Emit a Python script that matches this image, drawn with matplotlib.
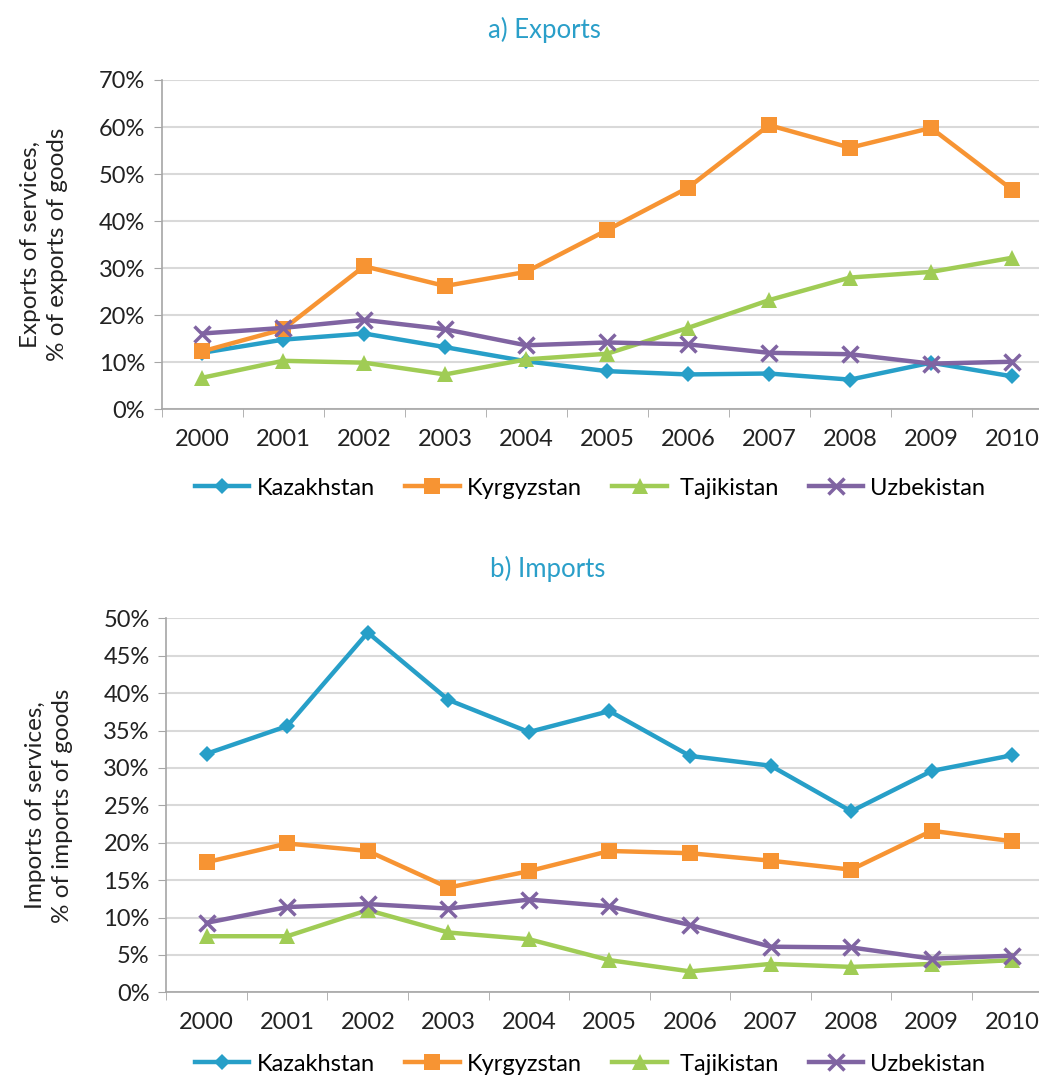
import matplotlib
matplotlib.use('Agg')
import matplotlib.pyplot as plt
from matplotlib.ticker import FixedLocator, PercentFormatter

plt.rcParams['font.family'] = ['Lato', 'DejaVu Sans']

years = ['2000', '2001', '2002', '2003', '2004', '2005', '2006', '2007', '2008', '2009', '2010']
countries = ['Kazakhstan', 'Kyrgyzstan', ' Tajikistan', 'Uzbekistan']

# a) exports of services, % of exports of goods
exp_kaz = [12.0, 14.8, 16.1, 13.2, 10.2, 8.1, 7.4, 7.6, 6.3, 9.9, 7.0]
exp_kgz = [12.3, 17.0, 30.4, 26.2, 29.2, 38.1, 47.1, 60.4, 55.6, 59.8, 46.7]
exp_tjk = [6.7, 10.3, 9.9, 7.4, 10.6, 11.8, 17.3, 23.2, 28.0, 29.2, 32.2]
exp_uzb = [16.1, 17.3, 19.0, 17.0, 13.6, 14.2, 13.8, 12.0, 11.7, 9.7, 10.1]

# b) imports of services, % of imports of goods
imp_kaz = [31.9, 35.6, 48.1, 39.1, 34.8, 37.6, 31.6, 30.3, 24.2, 29.6, 31.7]
imp_kgz = [17.4, 19.9, 18.9, 14.0, 16.2, 18.9, 18.6, 17.6, 16.4, 21.6, 20.2]
imp_tjk = [7.5, 7.5, 11.0, 8.0, 7.1, 4.3, 2.8, 3.8, 3.4, 3.8, 4.3]
imp_uzb = [9.3, 11.4, 11.8, 11.2, 12.4, 11.5, 9.0, 6.1, 6.0, 4.5, 4.9]

colors = ['#279fc8', '#f79433', '#a0cc55', '#8064a2']
markers = ['D', 's', '^', 'x']
msizes = [8, 11, 11, 11]

fig = plt.figure(figsize=(10.39, 10.75), dpi=100)
ax1 = fig.add_axes([0.1556, 0.6193, 0.8574, 0.3063])
ax2 = fig.add_axes([0.1601, 0.0769, 0.8530, 0.3479])


def draw(ax, series, ymax, ystep, title, ylabel):
    x = range(len(years))
    for vals, c, m, ms, lab in zip(series, colors, markers, msizes, countries):
        ax.plot(x, [v / 100 for v in vals], color=c, lw=3.2, marker=m, ms=ms,
                mew=2.5 if m == 'x' else 0, mec=c, label=lab, zorder=3)
    ax.set_xlim(-0.5, len(years) - 0.5)
    ax.set_ylim(0, ymax)
    ax.yaxis.set_major_locator(FixedLocator([i * ystep for i in range(int(round(ymax / ystep)) + 1)]))
    ax.yaxis.set_major_formatter(PercentFormatter(1.0, decimals=0))
    ax.set_xticks(list(x))
    ax.set_xticklabels(years)
    ax.set_xticks([i + 0.5 for i in range(-1, len(years))], minor=True)
    ax.tick_params(axis='x', which='major', length=0, pad=14, labelsize=17, labelcolor='#222222')
    ax.tick_params(axis='x', which='minor', length=6, color='#a6a6a6', direction='out')
    ax.tick_params(axis='y', length=6, color='#a6a6a6', pad=6, labelsize=17, labelcolor='#222222')
    ax.grid(axis='y', color='#d9d9d9', lw=1.5, zorder=0)
    for s in ['top', 'right']:
        ax.spines[s].set_visible(False)
    for s in ['left', 'bottom']:
        ax.spines[s].set_color('#a6a6a6')
        ax.spines[s].set_linewidth(1.2)
    ax.set_ylabel(ylabel, fontsize=17.5, color='#222222', labelpad=22, linespacing=1.35)
    ax.set_title(title, fontsize=18.5, color='#2a9fc9', pad=30, x=0.43)


draw(ax1, [exp_kaz, exp_kgz, exp_tjk, exp_uzb], 0.7, 0.1, 'a) Exports',
     'Exports of services,\n% of exports of goods')
draw(ax2, [imp_kaz, imp_kgz, imp_tjk, imp_uzb], 0.5, 0.05, 'b) Imports',
     'Imports of services,\n% of imports of goods')

for ax, y in [(ax1, 0.546), (ax2, 0.010)]:
    ax.legend(loc='center', bbox_to_anchor=(0.568, y), bbox_transform=fig.transFigure,
              ncol=4, frameon=False, fontsize=17, handlelength=2.3, columnspacing=1.3,
              handletextpad=0.3)

fig.savefig('out.png', dpi=100)
